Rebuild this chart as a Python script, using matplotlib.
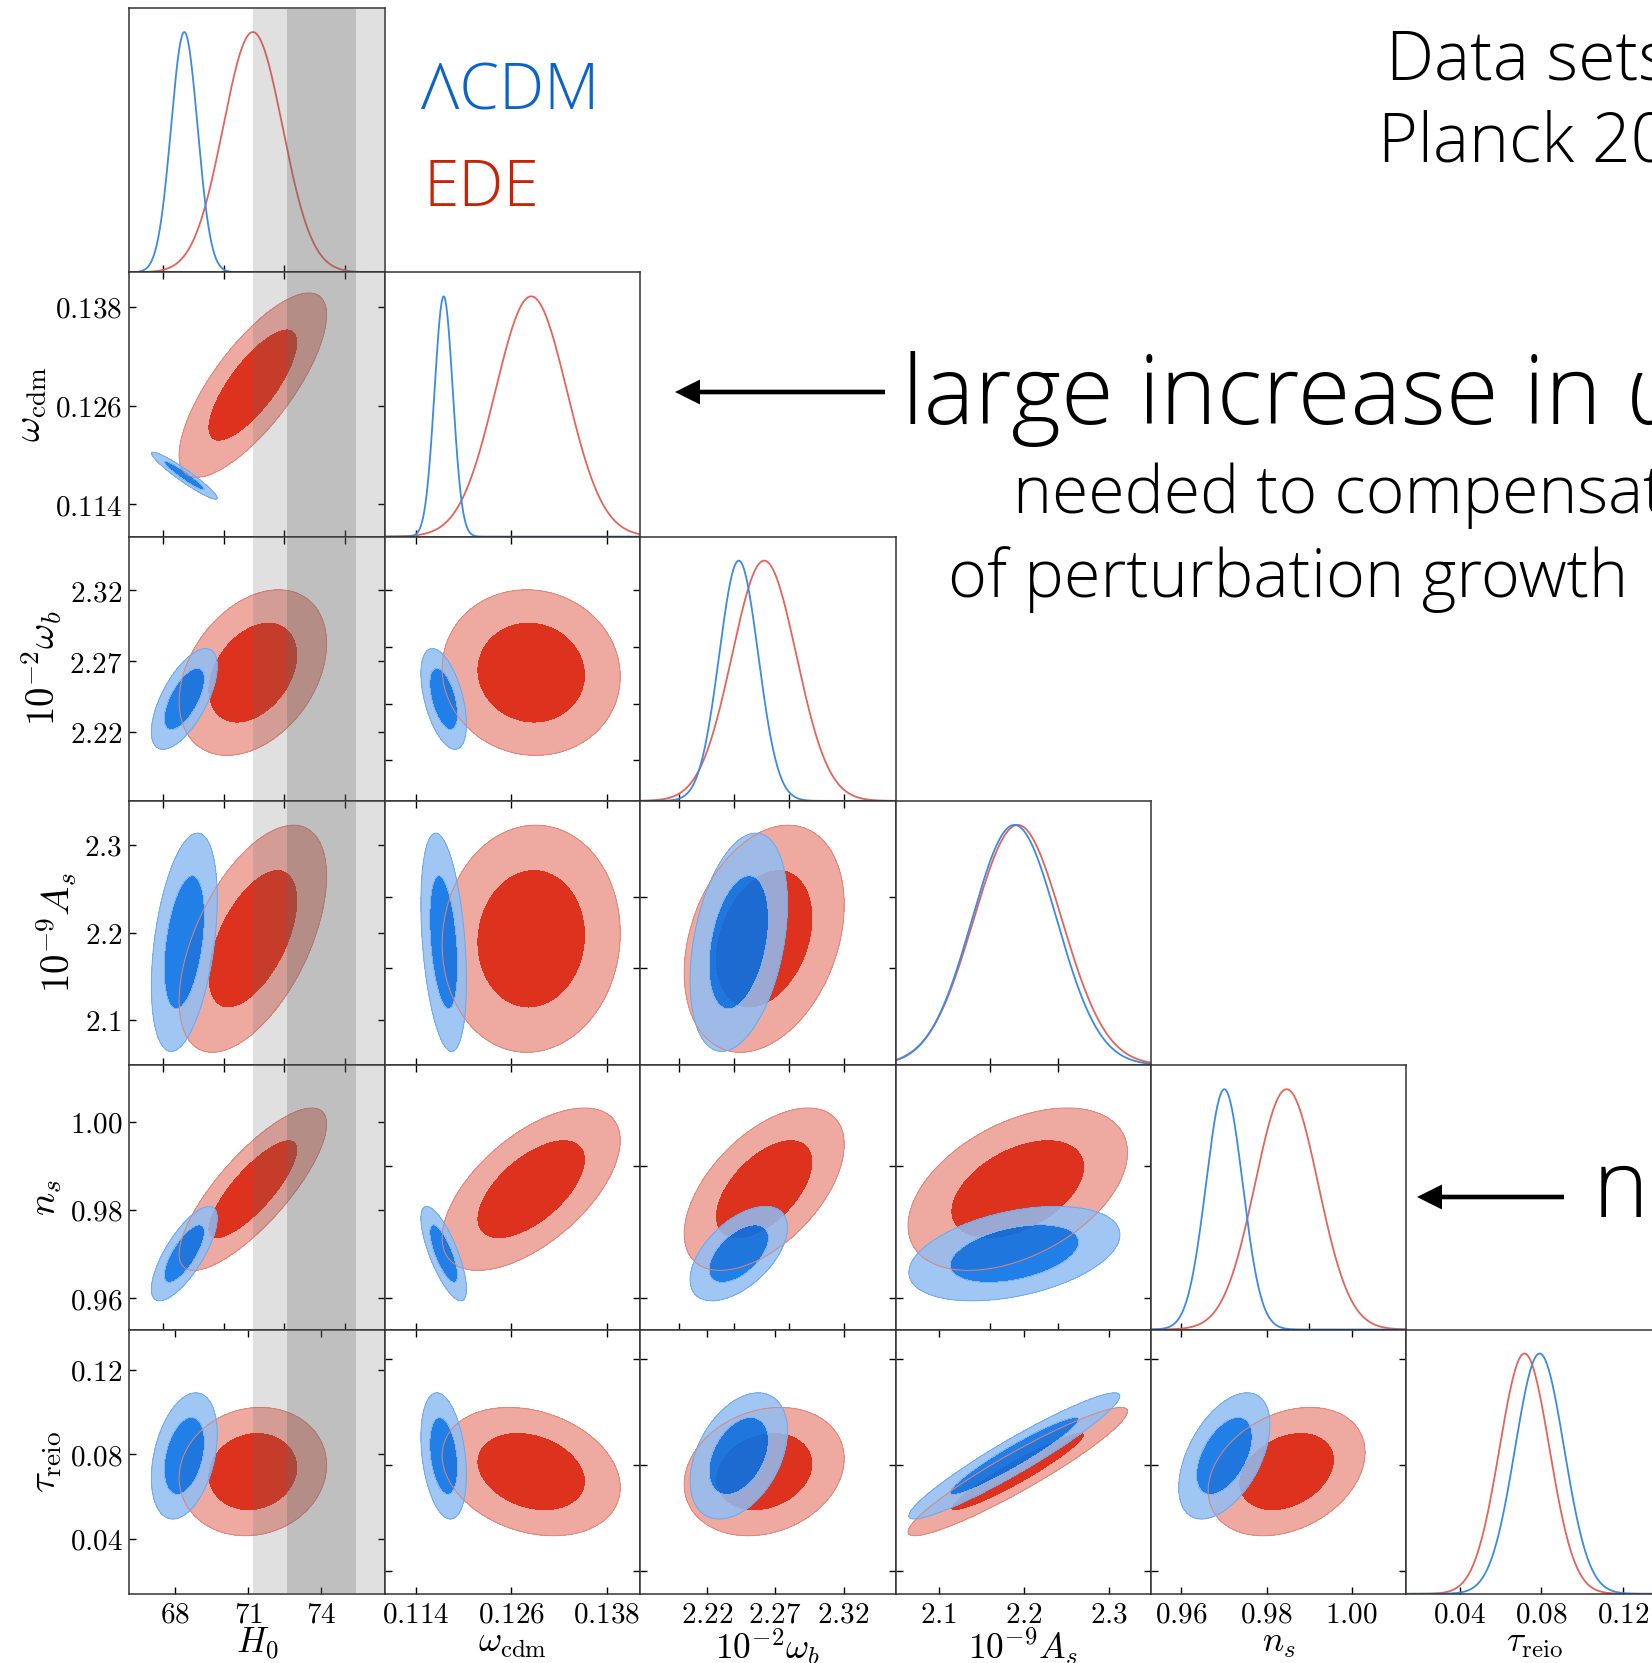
import numpy as np
import matplotlib.pyplot as plt
from matplotlib.patches import FancyArrow

plt.rcParams['mathtext.fontset'] = 'cm'

# === Parameters, ranges and ticks ===
axis_labels = [r'$H_0$', r'$\omega_{\rm cdm}$', r'$10^{-2}\omega_{b}$',
               r'$10^{-9}A_{s}$', r'$n_{s}$', r'$\tau_{\rm reio}$']
lims = [(66.12, 76.63), (0.1101, 0.1422), (2.1714, 2.358),
        (2.049, 2.350), (0.9529, 1.0128), (0.014, 0.139)]
outer_ticks = [[68, 71, 74], [0.114, 0.126, 0.138], [2.22, 2.27, 2.32],
               [2.1, 2.2, 2.3], [0.96, 0.98, 1.00], [0.04, 0.08, 0.12]]
outer_ticklabels = [['68', '71', '74'], ['0.114', '0.126', '0.138'],
                    ['2.22', '2.27', '2.32'], ['2.1', '2.2', '2.3'],
                    ['0.96', '0.98', '1.00'], ['0.04', '0.08', '0.12']]
inner_ticks = [[67.5, 70, 72.5, 75], [0.114, 0.126, 0.138],
               [2.20, 2.24, 2.28, 2.32], [2.16, 2.24], [0.96, 0.99],
               [0.025, 0.075, 0.125]]

# === Marginalised posteriors: mean and std per parameter ===
lcdm_mean = [68.38, 0.1175, 2.2434, 2.189, 0.9701, 0.0792]
lcdm_std = [0.545, 0.00115, 0.0143, 0.050, 0.0043, 0.0120]
ede_mean = [71.20, 0.1285, 2.2620, 2.193, 0.9847, 0.0718]
ede_std = [1.22, 0.0045, 0.0235, 0.052, 0.0074, 0.0122]

# correlation of row parameter i with column parameter j (j < i)
lcdm_corr = [
    [],
    [-0.95],
    [0.65, -0.50],
    [0.40, -0.35, 0.35],
    [0.75, -0.75, 0.55, 0.40],
    [0.35, -0.30, 0.40, 0.95, 0.50],
]
ede_corr = [
    [],
    [0.76],
    [0.35, -0.05],
    [0.55, 0.05, 0.30],
    [0.80, 0.60, 0.55, 0.45],
    [0.10, -0.25, 0.20, 0.94, 0.30],
]

# SH0ES measurement of H0
h0_local, h0_local_err = 74.03, 1.42

# === Styles ===
ede_style = dict(line='#e4645a',
                 fill=['#dd331e', '#eeaaa0'],
                 edge='#e08478')
lcdm_style = dict(line='#3a8ae8',
                  fill=[(8/255, 114/255, 229/255, 0.9), (144/255, 190/255, 243/255, 0.85)],
                  edge='#6ea8ec')
models = [(ede_mean, ede_std, ede_corr, ede_style),
          (lcdm_mean, lcdm_std, lcdm_corr, lcdm_style)]

W, H = 1652, 1663
n = 6
x_left, panel_w = 129.4, 255.4
y_top, panel_h = 8.0, 264.3

fig = plt.figure(figsize=(W / 100, H / 100), dpi=100)


def tex(s):
    return f'${s}$'


for i in range(n):
    for j in range(i + 1):
        ax = fig.add_axes([(x_left + j * panel_w) / W,
                           1 - (y_top + (i + 1) * panel_h) / H,
                           panel_w / W, panel_h / H])
        for sp in ax.spines.values():
            sp.set_color('#333333')
            sp.set_linewidth(1.1)
        ax.set_xlim(*lims[j])

        if i == j:
            # 1D posteriors
            x = np.linspace(*lims[i], 500)
            for mean, std, corr, st in models:
                ax.plot(x, np.exp(-0.5 * ((x - mean[i]) / std[i]) ** 2),
                        color=st['line'], lw=1.3)
            ax.set_ylim(0, 1.1)
            ax.set_yticks([])
            ax.tick_params(direction='in', length=5, width=1,
                           top=False, bottom=True, left=False, right=False)
        else:
            ax.set_ylim(*lims[i])
            xg = np.linspace(*lims[j], 320)
            yg = np.linspace(*lims[i], 320)
            X, Y = np.meshgrid(xg, yg)
            for mean, std, corr, st in models:
                dx = (X - mean[j]) / std[j]
                dy = (Y - mean[i]) / std[i]
                r = corr[i][j]
                chi2 = (dx ** 2 - 2 * r * dx * dy + dy ** 2) / (1 - r ** 2)
                # 68% and 95% regions
                ax.contourf(X, Y, chi2, levels=[0, 2.30, 6.18], colors=st['fill'])
                ax.contour(X, Y, chi2, levels=[6.18], colors=st['edge'],
                           linewidths=0.7)
            ax.tick_params(direction='in', length=5, width=1,
                           top=True, bottom=True, left=True, right=True)
            if j == 0:
                ax.set_yticks(outer_ticks[i])
                ax.set_yticklabels([tex(s) for s in outer_ticklabels[i]])
                ax.set_ylabel(axis_labels[i], fontsize=28, labelpad=4)
            else:
                ax.set_yticks(inner_ticks[i])
                ax.set_yticklabels([])

        if i == n - 1:
            ax.set_xticks(outer_ticks[j])
            ax.set_xticklabels([tex(s) for s in outer_ticklabels[j]])
            ax.set_xlabel(axis_labels[j], fontsize=25.5, labelpad=-2)
        else:
            ax.set_xticks(inner_ticks[j])
            ax.set_xticklabels([])
        ax.tick_params(labelsize=21, pad=5)

        if j == 0:
            # local H0 measurement, 1 and 2 sigma
            m, s = h0_local, h0_local_err
            ax.axvspan(m - 2 * s, m - s, color='#656565', alpha=0.195, lw=0, zorder=3)
            ax.axvspan(m - s, m + s, color='#656565', alpha=0.41, lw=0, zorder=3)
            ax.axvspan(m + s, m + 2 * s, color='#656565', alpha=0.195, lw=0, zorder=3)

# === Annotations in pixel coordinates ===
over = fig.add_axes([0, 0, 1, 1])
over.set_xlim(0, W)
over.set_ylim(H, 0)
over.axis('off')
over.patch.set_visible(False)

font = dict(family=['Open Sans', 'DejaVu Sans'], weight='light', va='baseline', ha='left')
over.text(421, 109, 'ΛCDM', color='#0a64c8', fontsize=46, **font)
over.text(424, 206, 'EDE', color='#c82305', fontsize=46, **font)
over.text(1386, 79, 'Data sets', color='black', fontsize=49, **font)
over.text(1378, 162, 'Planck 2018', color='black', fontsize=49, **font)
over.text(902, 424, 'large increase in ω', color='black', fontsize=69, **font)
over.text(1013, 513, 'needed to compensate', color='black', fontsize=47.5, **font)
over.text(948, 597, 'of perturbation growth', color='black', fontsize=48, **font)
over.text(1593, 1217, 'need', color='black', fontsize=68, **font)

for tail, tip, yy in [(885, 675, 392), (1564, 1417, 1197)]:
    over.add_patch(FancyArrow(tail, yy, tip - tail, 0, width=4.6, head_width=25,
                              head_length=25, length_includes_head=True,
                              color='black', lw=0))

fig.savefig('out.png', dpi=100)
